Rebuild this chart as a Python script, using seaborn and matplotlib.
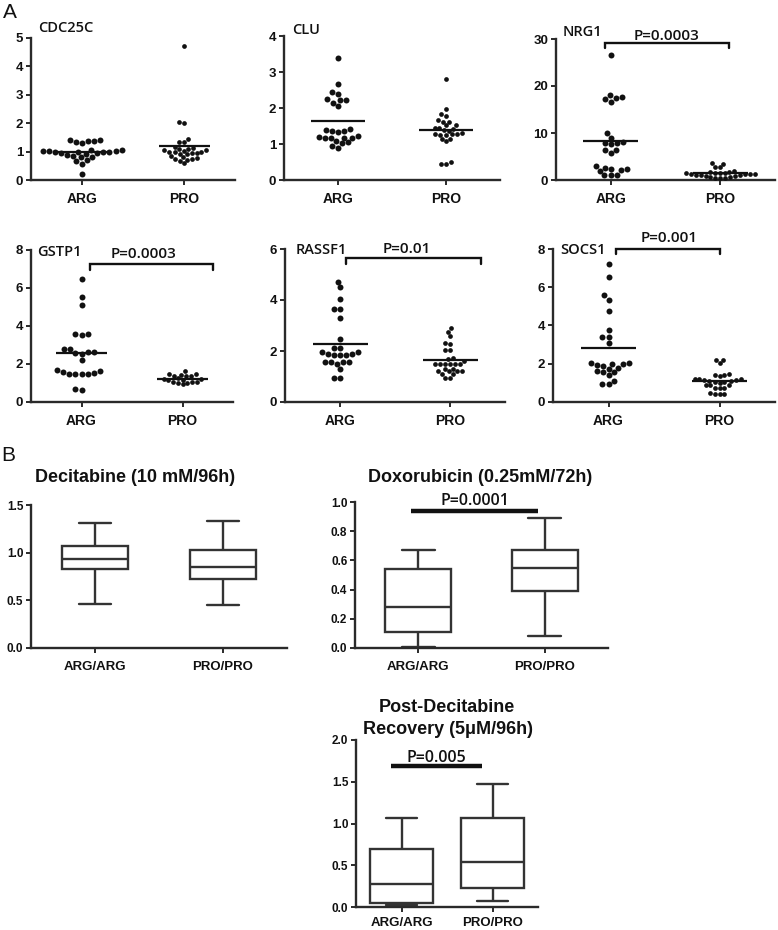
import numpy as np
import pandas as pd
import matplotlib
matplotlib.use("Agg")
import matplotlib.pyplot as plt
import seaborn as sns

# ---------------- data ----------------
groups_a = ["ARG", "PRO"]
groups_b = ["ARG/ARG", "PRO/PRO"]

cdc25c_arg = [1.40, 1.38, 1.35, 1.30, 1.37, 1.40, 1.05, 1.03, 1.02, 1.00, 0.98, 0.97, 0.96,
              0.95, 1.00, 1.02, 1.04, 0.93, 0.82, 0.80, 0.68, 0.72, 0.58, 0.20, 0.88, 0.86]
cdc25c_pro = [4.72, 2.05, 2.00, 1.45, 1.35, 1.34, 1.15, 1.12, 1.10, 1.08, 1.05, 1.02, 1.00,
              0.98, 0.95, 1.05, 1.00, 0.90, 0.85, 0.80, 0.73, 0.72, 0.68, 0.60, 0.78, 0.75,
              0.95, 0.92]

clu_arg = [3.38, 2.66, 2.45, 2.38, 2.24, 2.15, 2.06, 2.22, 2.22, 1.42, 1.40, 1.35, 1.37,
           1.32, 1.22, 1.18, 1.17, 1.18, 1.16, 1.19, 1.08, 1.05, 1.02, 0.95, 0.90]
clu_pro = [2.81, 1.96, 1.82, 1.78, 1.66, 1.62, 1.62, 1.52, 1.52, 1.45, 1.45, 1.42, 1.38,
           1.36, 1.30, 1.28, 1.28, 1.27, 1.26, 1.25, 1.15, 1.14, 1.08, 0.50, 0.45, 0.45]

nrg1_arg = [26.6, 18.1, 17.7, 17.5, 17.2, 16.7, 9.9, 8.9, 8.0, 7.9, 7.8, 7.6, 6.4, 6.4,
            5.8, 2.9, 2.6, 2.4, 2.3, 2.1, 1.9, 1.1, 1.1, 1.0]
nrg1_pro = [3.6, 3.5, 2.8, 2.7, 1.9, 1.8, 1.6, 1.5, 1.5, 1.4, 1.4, 1.3, 1.3, 1.2, 1.2,
            1.1, 1.0, 1.0, 0.9, 0.8, 0.7, 0.6, 0.5, 0.5, 0.4]

gstp1_arg = [6.45, 5.50, 5.13, 3.60, 3.55, 3.60, 2.78, 2.80, 2.63, 2.60, 2.63, 2.55, 2.20,
             1.70, 1.65, 1.58, 1.55, 1.46, 1.46, 1.46, 1.45, 0.70, 0.62]
gstp1_pro = [1.62, 1.48, 1.45, 1.44, 1.38, 1.37, 1.35, 1.25, 1.22, 1.20, 1.18, 1.15, 1.05,
             1.05, 1.03, 1.02, 1.00, 0.93]

rassf1_arg = [4.72, 4.50, 4.04, 3.64, 3.64, 3.31, 2.49, 2.10, 2.10, 1.97, 1.97, 1.88, 1.88,
              1.84, 1.84, 1.84, 1.57, 1.57, 1.57, 1.57, 1.50, 1.29, 0.96, 0.96]
rassf1_pro = [2.91, 2.76, 2.59, 2.32, 2.26, 2.03, 2.03, 1.71, 1.67, 1.60, 1.50, 1.50, 1.50,
              1.50, 1.50, 1.50, 1.31, 1.31, 1.20, 1.20, 1.20, 1.20, 1.09, 1.09, 0.95, 0.95]

socs1_arg = [7.23, 6.53, 5.57, 5.34, 4.76, 3.77, 3.42, 3.42, 3.10, 2.05, 2.05, 2.00, 2.00,
             1.95, 1.90, 1.80, 1.75, 1.60, 1.58, 1.58, 1.40, 1.10, 0.96, 0.96]
socs1_pro = [2.22, 2.22, 2.05, 1.45, 1.40, 1.40, 1.38, 1.20, 1.20, 1.18, 1.15, 1.15, 1.12,
             1.10, 1.05, 1.05, 1.00, 0.90, 0.88, 0.88, 0.75, 0.74, 0.74, 0.45, 0.44, 0.44, 0.44]

# box-plot summaries: [min, Q1, median, Q3, max]
decitabine_arg = [0.46, 0.83, 0.93, 1.07, 1.31]
decitabine_pro = [0.45, 0.72, 0.85, 1.03, 1.33]
doxorubicin_arg = [0.01, 0.11, 0.28, 0.54, 0.67]
doxorubicin_pro = [0.08, 0.39, 0.55, 0.67, 0.89]
postdec_arg = [0.02, 0.05, 0.28, 0.70, 1.06]
postdec_pro = [0.07, 0.23, 0.54, 1.06, 1.47]

# ---------------- style ----------------
sns.set_theme(style="ticks")
plt.rcParams["font.family"] = ["Liberation Sans", "DejaVu Sans"]
INK = "#2a2a2a"
TITLE_FONT = ["Open Sans", "DejaVu Sans"]

W, H = 778, 930
fig = plt.figure(figsize=(W / 100, H / 100), dpi=100)
fig.patch.set_facecolor("white")


def add_ax(left, top, right, bottom):
    return fig.add_axes([left / W, 1 - bottom / H, (right - left) / W, (bottom - top) / H])


def ftext(x, y, s, **kw):
    fig.text(x / W, 1 - y / H, s, **kw)


def style(ax, ymax, yticks, fmt, labels, tick_fs, lab_fs, xpad=4):
    ax.set_xlim(-0.5, 1.5)
    ax.set_ylim(0, ymax)
    for s in ["top", "right"]:
        ax.spines[s].set_visible(False)
    for s in ["left", "bottom"]:
        ax.spines[s].set_linewidth(1.7)
        ax.spines[s].set_color(INK)
    ax.set_yticks(yticks)
    ax.set_yticklabels([fmt.format(t) for t in yticks], fontsize=tick_fs,
                       fontweight="bold", color="#111")
    ax.set_xticks([0, 1])
    ax.set_xticklabels(labels, fontsize=lab_fs, fontweight="bold", color="#111")
    ax.tick_params(axis="both", direction="out", length=3.5, width=1.4, color=INK)
    ax.tick_params(axis="y", pad=2)
    ax.tick_params(axis="x", pad=xpad)
    ax.set_xlabel("")
    ax.set_ylabel("")
    ax.patch.set_alpha(0)


def scatter_panel(ax, arg, pro):
    for i, (vals, sz) in enumerate([(arg, 4.3), (pro, 3.4)]):
        sns.swarmplot(x=[groups_a[i]] * len(vals), y=vals, order=groups_a, color="#111",
                      size=sz, ax=ax, clip_on=False, zorder=3)
        m = np.mean(vals)
        ax.hlines(m, i - 0.25, i + 0.25, color="#111", lw=1.6, zorder=4)


def bracket(ax, x0, x1, ytop, ytip, tx, ty, label):
    ax.plot([x0, x0, x1, x1], [ytip, ytop, ytop, ytip], color="#111", lw=1.7,
            clip_on=False, solid_joinstyle="miter")
    ax.text(tx, ty, label, ha="center", va="center", fontsize=11, family=TITLE_FONT,
            fontweight="semibold", color="#111", clip_on=False)


# ---------------- panel A ----------------
specs = [
    ((31, 38, 235, 180), cdc25c_arg, cdc25c_pro, 5, [0, 1, 2, 3, 4, 5], "CDC25C", (38, 28)),
    ((284, 36, 500, 180), clu_arg, clu_pro, 4, [0, 1, 2, 3, 4], "CLU", (292, 30)),
    ((556, 39, 775, 180), nrg1_arg, nrg1_pro, 30, [0, 10, 20, 30], "NRG1", (563, 32)),
    ((31, 250, 233, 402), gstp1_arg, gstp1_pro, 8, [0, 2, 4, 6, 8], "GSTP1", (37, 252)),
    ((285, 249, 505, 402), rassf1_arg, rassf1_pro, 6, [0, 2, 4, 6], "RASSF1", (296, 250)),
    ((553, 249, 775, 402), socs1_arg, socs1_pro, 8, [0, 2, 4, 6, 8], "SOCS1", (560, 250)),
]
axes_a = []
for rect, arg, pro, ymax, yt, name, (tx, ty) in specs:
    ax = add_ax(*rect)
    scatter_panel(ax, arg, pro)
    style(ax, ymax, yt, "{:g}", groups_a, 9.5, 10, xpad=5)
    ftext(tx, ty, name, fontsize=10.5, family=TITLE_FONT, fontweight="semibold",
          ha="left", va="center", color="#111")
    axes_a.append(ax)

bracket(axes_a[2], -0.05, 1.08, 29.1, 28.1, 0.51, 30.6, "P=0.0003")
bracket(axes_a[3], 0.08, 1.30, 7.26, 6.95, 0.61, 7.8, "P=0.0003")
bracket(axes_a[4], 0.05, 1.28, 5.63, 5.41, 0.61, 6.0, "P=0.01")
bracket(axes_a[5], 0.07, 1.00, 7.98, 7.72, 0.55, 8.55, "P=0.001")

ftext(3, 13, "A", fontsize=15, ha="left", va="center", color="#111")
ftext(1, 455, "B", fontsize=15, ha="left", va="center", color="#111")


# ---------------- panel B ----------------
def box_panel(ax, arg_stats, pro_stats, width):
    df = pd.DataFrame({"g": [groups_b[0]] * len(arg_stats) + [groups_b[1]] * len(pro_stats),
                       "v": list(arg_stats) + list(pro_stats)})
    sns.boxplot(data=df, x="g", y="v", order=groups_b, whis=(0, 100), width=width,
                color="white", linecolor="#333", linewidth=1.7, fliersize=0, ax=ax)


ax = add_ax(31, 505, 287, 648)
box_panel(ax, decitabine_arg, decitabine_pro, 0.51)
style(ax, 1.5, [0.0, 0.5, 1.0, 1.5], "{:.1f}", groups_b, 8.5, 9.5, xpad=6)
ftext(135, 477, "Decitabine (10 mM/96h)", fontsize=13, fontweight="bold", ha="center",
      va="center", color="#111")

ax = add_ax(355, 502, 608, 648)
box_panel(ax, doxorubicin_arg, doxorubicin_pro, 0.52)
style(ax, 1.0, [0.0, 0.2, 0.4, 0.6, 0.8, 1.0], "{:.1f}", groups_b, 8.5, 9.5, xpad=6)
ftext(480, 477, "Doxorubicin (0.25mM/72h)", fontsize=13, fontweight="bold", ha="center",
      va="center", color="#111")
ax.plot([-0.06, 0.95], [0.94, 0.94], color="#111", lw=3.2, solid_capstyle="butt", clip_on=False)
ax.text(0.45, 1.005, "P=0.0001", ha="center", va="center", fontsize=11.5, family=TITLE_FONT,
        fontweight="semibold", color="#111", clip_on=False)

ax = add_ax(356, 740, 538, 907)
box_panel(ax, postdec_arg, postdec_pro, 0.69)
style(ax, 2.0, [0.0, 0.5, 1.0, 1.5, 2.0], "{:.1f}", groups_b, 8.5, 9.5, xpad=4)
ftext(447, 708, "Post-Decitabine", fontsize=13, fontweight="bold", ha="center",
      va="center", color="#111")
ftext(448, 730, "Recovery (5\u03bcM/96h)", fontsize=13, fontweight="bold", ha="center",
      va="center", color="#111")
ax.plot([-0.11, 0.89], [1.69, 1.69], color="#111", lw=3.2, solid_capstyle="butt", clip_on=False)
ax.text(0.38, 1.79, "P=0.005", ha="center", va="center", fontsize=11.5, family=TITLE_FONT,
        fontweight="semibold", color="#111", clip_on=False)

fig.savefig("out.png", dpi=100, facecolor="white")
